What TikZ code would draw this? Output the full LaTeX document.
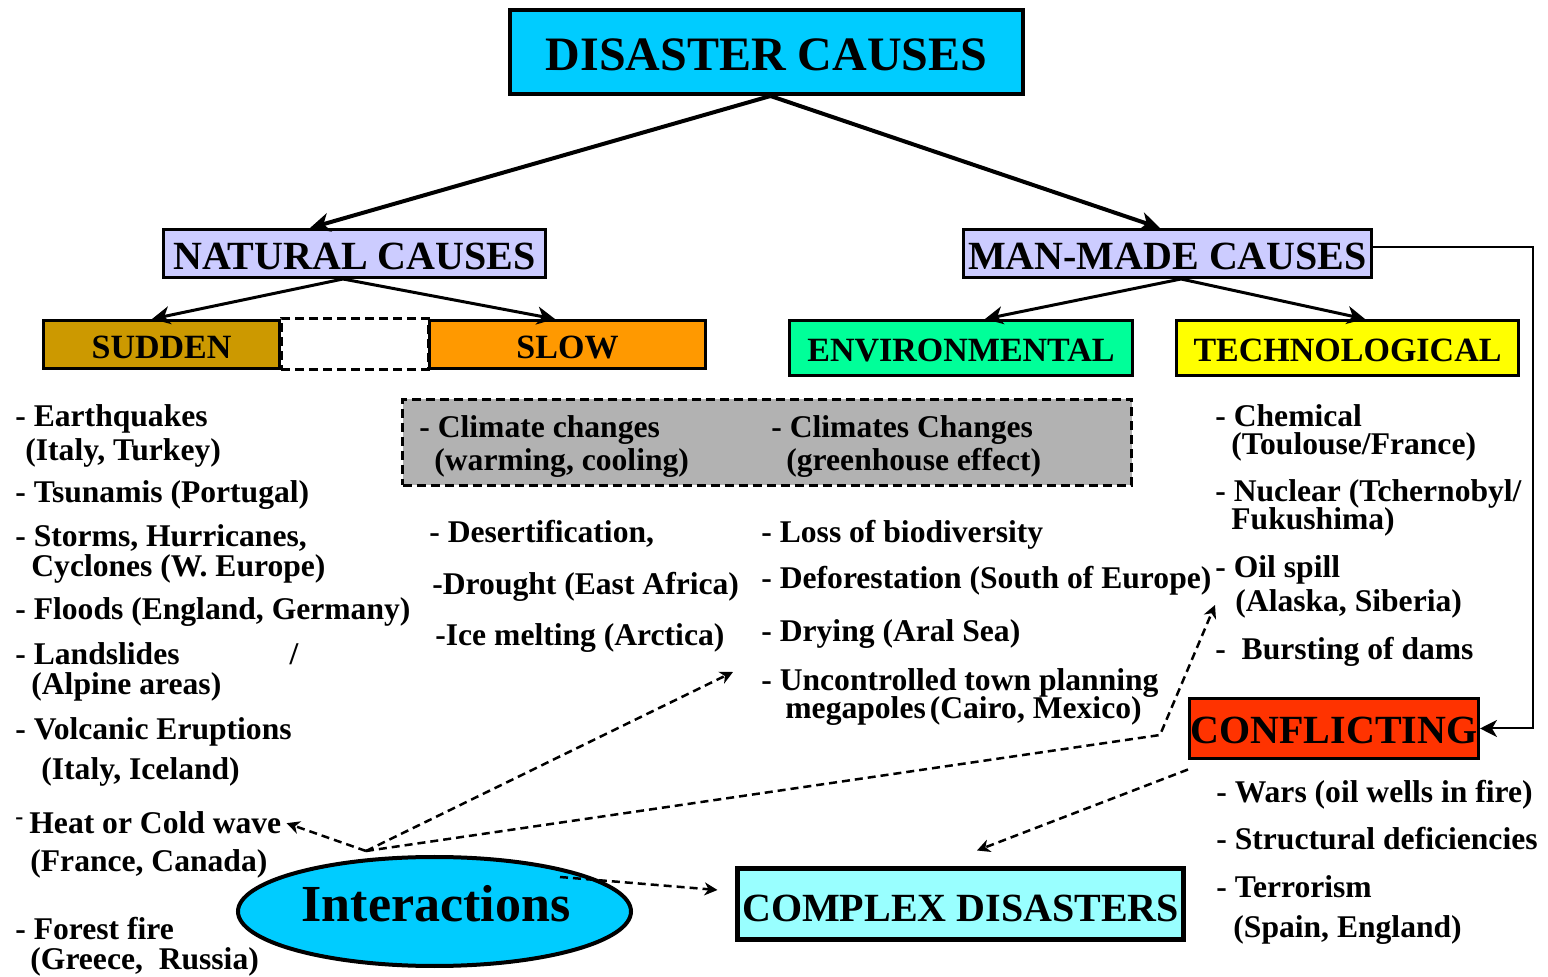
\documentclass[tikz,border=0pt]{standalone}
\usepackage{fontspec}
\setmainfont{Liberation Serif}
\usetikzlibrary{arrows.meta,shapes.geometric}

\definecolor{headcyan}{HTML}{00CCFF}
\definecolor{lavender}{HTML}{CCCCFF}
\definecolor{ochre}{HTML}{CC9900}
\definecolor{amber}{HTML}{FF9900}
\definecolor{mint}{HTML}{00FF99}
\definecolor{lemon}{HTML}{FFFF00}
\definecolor{redorange}{HTML}{FF3300}
\definecolor{palecyan}{HTML}{99FFFF}
\definecolor{midgrey}{HTML}{B2B2B2}

\begin{document}
\begin{tikzpicture}[x=0.5pt,y=-0.5pt,
  box/.style={draw=black, line width=1.5pt, inner sep=0pt, font=\bfseries},
  lst/.style={anchor=base west, inner sep=0pt, font=\bfseries\fontsize{15.8}{18}\selectfont},
  arr/.style={-{Stealth[length=10pt,width=9.5pt,inset=3pt]}, line width=2pt},
  arrthin/.style={-{Stealth[length=9pt,width=9pt,inset=2.7pt]}, line width=1.5pt},
  darr/.style={-{Stealth[length=6.5pt,width=6.5pt,inset=2pt]}, line width=1.25pt, dash pattern=on 4pt off 2.5pt},
  dashedbox/.style={draw=black, line width=1.5pt, dash pattern=on 4.5pt off 2.5pt}]

\path[use as bounding box] (0,0) rectangle (1548,977);

% headings
\node[box, line width=2pt, fill=headcyan, minimum width=256.5pt, minimum height=42pt,
      text height=18.9pt, font=\bfseries\fontsize{24}{24}\selectfont] (top) at (766.5,52) {DISASTER CAUSES};
\node[box, fill=lavender, minimum width=191pt, minimum height=24pt, text height=15.8pt,
      font=\bfseries\fontsize{20}{20}\selectfont] (nat) at (354.5,253.5) {NATURAL CAUSES};
\node[box, fill=lavender, minimum width=204pt, minimum height=24pt, text height=15.8pt,
      font=\bfseries\fontsize{20}{20}\selectfont] (man) at (1167.5,253.5) {MAN-MADE CAUSES};

% sub-categories
\node[dashedbox, fill=white, minimum width=73.5pt, minimum height=25.5pt, inner sep=0pt] (gap) at (354.5,344) {};
\node[box, fill=ochre, minimum width=118pt, minimum height=24pt, text height=14.5pt,
      font=\bfseries\fontsize{17}{17}\selectfont] (sudden) at (161.5,344.5) {SUDDEN};
\node[box, fill=amber, minimum width=138pt, minimum height=24pt, text height=14.5pt,
      font=\bfseries\fontsize{17}{17}\selectfont] (slow) at (567.5,344.5) {SLOW};
\node[box, fill=mint, minimum width=171.5pt, minimum height=27.5pt, text height=13.5pt,
      font=\bfseries\fontsize{17}{17}\selectfont] (env) at (961,348) {ENVIRONMENTAL};
\node[box, fill=lemon, minimum width=171pt, minimum height=27.5pt, text height=13.5pt,
      font=\bfseries\fontsize{17}{17}\selectfont] (tech) at (1347.5,348) {TECHNOLOGICAL};

% shared climate box
\node[dashedbox, fill=midgrey, minimum width=364.5pt, minimum height=43pt, inner sep=0pt] (climate) at (767,442.5) {};

\node[box, fill=redorange, minimum width=144.5pt, minimum height=30pt, text height=15.2pt,
      font=\bfseries\fontsize{20}{20}\selectfont] (conf) at (1334,728.5) {CONFLICTING};
\node[box, line width=2.5pt, fill=palecyan, minimum width=223pt, minimum height=35.5pt, text height=18pt,
      font=\bfseries\fontsize{20}{20}\selectfont] (complex) at (960.5,904) {COMPLEX DISASTERS};

\node[ellipse, draw=black, line width=2pt, fill=headcyan, minimum width=196.5pt,
      minimum height=54.5pt, inner sep=0pt] (inter) at (434.5,911.5) {};
\node[inner sep=0pt, font=\bfseries\fontsize{26}{26}\selectfont] (intertext) at (436,904) {Interactions};

% tree connectors
\draw[arr] ([xshift=2pt]top.south) -- ([xshift=-22.25pt]nat.north);
\draw[arr] ([xshift=2pt]top.south) -- ([xshift=-3.75pt]man.north);
\draw[arrthin] ([xshift=-5.75pt]nat.south) -- ([xshift=-4.75pt]sudden.north);
\draw[arrthin] ([xshift=-5.75pt]nat.south) -- ([xshift=-6.25pt]slow.north);
\draw[arrthin] ([xshift=6.75pt]man.south) -- ([xshift=12pt]env.north);
\draw[arrthin] ([xshift=6.75pt]man.south) -- ([xshift=8.75pt]tech.north);
\coordinate (rt) at (1533,247);
\draw[-{Stealth[length=8.5pt,width=8.5pt,inset=2.5pt]}, line width=1pt] ([yshift=3.25pt]man.east) -- (rt) |- (conf.east);

% natural, sudden
\node[lst] (e1) at (15,427) {- Earthquakes};
\node[lst] (e2) at (25,461) {(Italy, Turkey)};
\node[lst] (e3) at (15,503) {- Tsunamis (Portugal)};
\node[lst] (e4) at (15,547) {- Storms, Hurricanes,};
\node[lst] (e5) at (31,577) {Cyclones (W. Europe)};
\node[lst] (e6) at (15,620) {- Floods (England, Germany)};
\node[lst] (e7) at (15,665) {- Landslides\hspace{55pt}/};
\node[lst] (e8) at (31,695) {(Alpine areas)};
\node[lst] (e9) at (15,740) {- Volcanic Eruptions};
\node[lst] (e10) at (41,780) {(Italy, Iceland)};
\node[lst] (heat) at (15,834) {\raisebox{4.5pt}{\fontsize{12}{12}\selectfont -}\hspace{3pt}Heat or Cold wave};
\node[lst] (e12) at (30,872) {(France, Canada)};
\node[lst] (e13) at (15,940) {- Forest fire};
\node[lst] (e14) at (30,969) {(Greece,\ \ Russia)};

% climate
\node[lst] (g1) at (419,438) {- Climate changes};
\node[lst] (g2) at (434,471) {(warming, cooling)};
\node[lst] (g3) at (771,438) {- Climates Changes};
\node[lst] (g4) at (786,471) {(greenhouse effect)};

% natural, slow
\node[lst] (s1) at (429,543) {- Desertification,};
\node[lst] (s2) at (432,595) {-Drought (East Africa)};
\node[lst] (s3) at (435,646) {-Ice melting (Arctica)};

% man-made, environmental
\node[lst] (v1) at (761,543) {- Loss of biodiversity};
\node[lst] (v2) at (761,589) {- Deforestation (South of Europe)};
\node[lst] (v3) at (761,642) {- Drying (Aral Sea)};
\node[lst] (v4) at (761,691) {- Uncontrolled town planning};
\node[lst] (v5) at (785,719) {megapoles\kern2pt(Cairo, Mexico)};

% man-made, technological
\node[lst] (t1) at (1215,427) {- Chemical};
\node[lst] (t2) at (1231,455) {(Toulouse/France)};
\node[lst] (t3) at (1215,502) {- Nuclear (Tchernobyl/};
\node[lst] (t4) at (1231,530) {Fukushima)};
\node[lst] (t5) at (1215,578) {- Oil spill};
\node[lst] (t6) at (1235,612) {(Alaska, Siberia)};
\node[lst] (t7) at (1215,660) {-\ \ Bursting of dams};

% conflicting
\node[lst] (c1) at (1216,803) {- Wars (oil wells in fire)};
\node[lst] (c2) at (1216,850) {- Structural deficiencies};
\node[lst] (c3) at (1216,898) {- Terrorism};
\node[lst] (c4) at (1233,937) {(Spain, England)};

% interaction links
\coordinate (src) at (366,851);
\coordinate (slowtip) at (733,672);
\coordinate (bend) at (1160,735);
\coordinate (techtip) at (1215,605);
\coordinate (istart) at (560,877);
\draw[darr] (src) -- ([xshift=2.5pt]heat.east);
\draw[darr] (src) -- (slowtip);
\draw[darr] (src) -- (bend) -- (techtip);
\draw[darr] (istart) -- ([xshift=-8.75pt,yshift=7pt]complex.west);
\draw[darr] ([yshift=-4.75pt]conf.south west) -- ([xshift=8.25pt,yshift=7.75pt]complex.north);

\end{tikzpicture}
\end{document}
